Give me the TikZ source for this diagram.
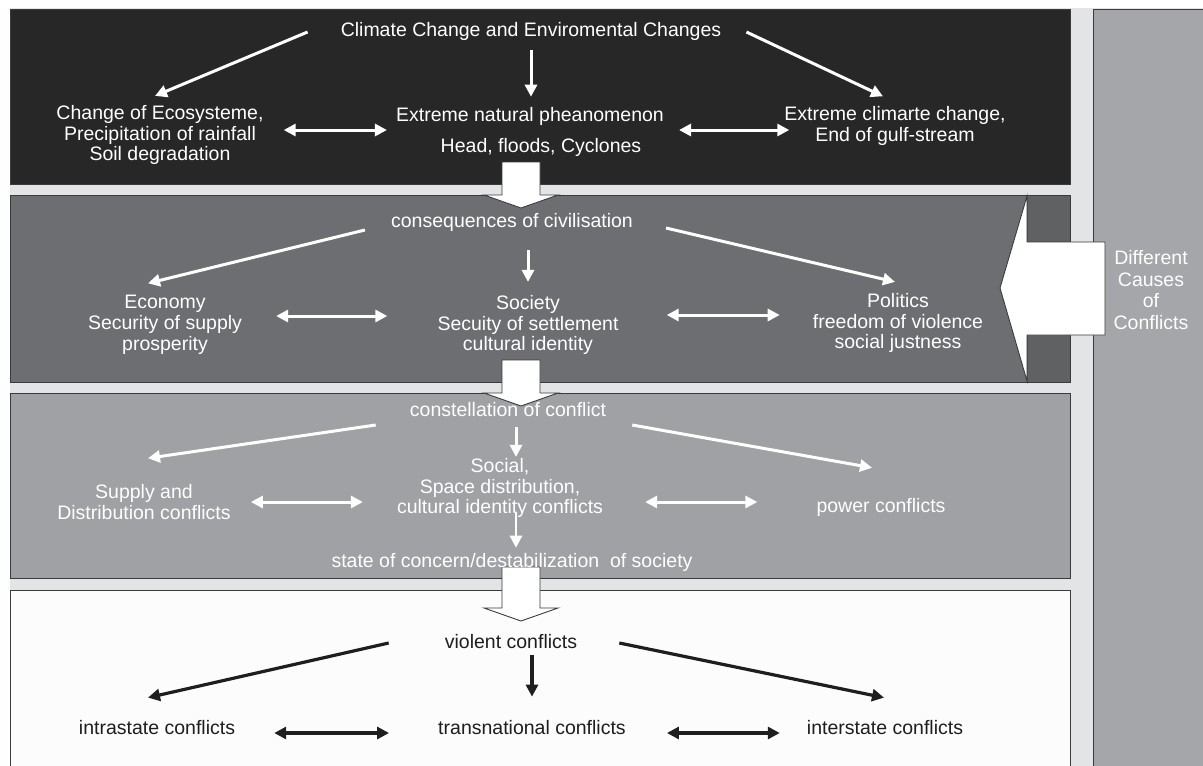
\documentclass[tikz,border=0pt]{standalone}
\usepackage{fontspec}
\setmainfont{Liberation Sans}
\usetikzlibrary{arrows.meta, positioning, calc}
\definecolor{ccNight}{HTML}{272727}
\definecolor{ccDark}{HTML}{6C6E71}
\definecolor{ccMid}{HTML}{9FA1A4}
\definecolor{ccPale}{HTML}{FCFCFC}
\definecolor{ccSide}{HTML}{A4A6A9}
\definecolor{ccGap}{HTML}{E3E4E5}
\definecolor{ccEdge}{HTML}{3A3B3D}
\definecolor{ccInk}{HTML}{1E1E1E}

\begin{document}
\begin{tikzpicture}[
  x=1pt, y=-1pt,
  font=\fontsize{19.5}{20.8}\selectfont,
  lbl/.style={align=center, text=white, inner sep=1pt},
  dlbl/.style={lbl, text=ccInk},
  band/.style={draw=ccEdge, line width=1pt},
  wtip/.tip={Triangle[length=12pt, width=12pt]},
  warr/.style={draw=white, line width=3pt, -wtip},
  wdbl/.style={draw=white, line width=3pt, wtip-wtip},
  karr/.style={draw=ccInk, line width=3.2pt, -wtip},
  kdbl/.style={draw=ccInk, line width=3.2pt, wtip-wtip},
  fat/.style={fill=white, draw=ccEdge, line width=0.9pt},
]

% hollow block arrow pointing down: axis, top of the shaft, foot of the head
\newcommand{\fatdown}[3]{%
  \draw[fat] ({#1-19},#2) -- ({#1+19},#2) -- ({#1+19},#3) -- ({#1+37},#3)
    -- (#1,{#3+13}) -- ({#1-37},#3) -- ({#1-19},#3) -- cycle;}

\useasboundingbox (0,0) rectangle (1203,766);

% ============================ bands and side column ===========================
\fill[ccGap] (0,0) rectangle (1203,766);
\fill[white] (0,0) rectangle (1203,8);
\fill[white!96!ccGap] (0,8) rectangle (10,766);
\draw[band, fill=ccNight] (10,9) rectangle (1070,184);
\draw[band, fill=ccDark] (10,195) rectangle (1070,382);
\draw[band, fill=ccDark!88!black] (1027,195) rectangle (1070,382);
\draw[band, fill=ccMid] (10,393) rectangle (1070,578);
\draw[band, fill=ccPale] (10,590) rectangle (1070,772);
\draw[band, fill=ccSide] (1093,9) rectangle (1210,772);

% the big arrow coming in from the side column
\draw[fat] (1105,242) -- (1027,242) -- (1027,196) -- (1000,288)
  -- (1027,381) -- (1027,335) -- (1105,335) -- cycle;
\node[lbl, font=\fontsize{19.5}{21.7}\selectfont] (causes) at (1151,290)
  {Different\\Causes\\of\\Conflicts};

% one level hands down to the next
\fatdown{521}{162}{195}
\fatdown{521}{360}{393}
\fatdown{521}{567}{608}

% ============================ (1) climate ====================================
\node[lbl] (clim) at (531,31) {Climate Change and Enviromental Changes};
\node[lbl] (eco) at (160,135) {Change of Ecosysteme,\\Precipitation of rainfall\\Soil degradation};
\node[lbl] (nat) at (530,116) {Extreme natural pheanomenon};
\node[lbl] (heat) at (541,147) {Head, floods, Cyclones};
\node[lbl] (gulf) at (895,126) {Extreme climarte change,\\End of gulf-stream};

\draw[warr] ([xshift=-32pt,yshift=-1pt]clim.west) -- ([xshift=-5pt,yshift=8pt]eco.north);
\draw[warr, shorten <=9pt, shorten >=9pt] (clim.south) -- (clim.south |- nat.north);
\draw[warr] ([xshift=24pt,yshift=-1pt]clim.east) -- ([xshift=-12pt,yshift=9pt]gulf.north);
\draw[wdbl] ([xshift=19pt,yshift=5pt]eco.east) -- ([xshift=-8pt,yshift=-14pt]nat.west);
\draw[wdbl] ([xshift=14pt,yshift=-14pt]nat.east) -- ([xshift=6pt,yshift=-4pt]gulf.west);

% ============================ (2) civilisation ===============================
\node[lbl] (cons) at (512,222) {consequences of civilisation};
\node[lbl] (econ) at (165,325) {Economy\\Security of supply\\prosperity};
\node[lbl] (soc) at (528,325) {Society\\Secuity of settlement\\cultural identity};
\node[lbl] (pol) at (898,323) {Politics\\freedom of violence\\social justness};

\draw[warr] ([xshift=-25pt,yshift=-8pt]cons.west) -- ([xshift=-17pt,yshift=11pt]econ.north);
\draw[warr, shorten <=18pt, shorten >=12pt] (soc.north |- cons.south) -- (soc.north);
\draw[warr] ([xshift=32pt,yshift=-6pt]cons.east) -- ([xshift=-3pt,yshift=10pt]pol.north);
\draw[wdbl] ([xshift=33pt,yshift=9pt]econ.east) -- ([xshift=-49pt,yshift=9pt]soc.west);
\draw[wdbl] ([xshift=47pt,yshift=10pt]soc.east) -- ([xshift=-32pt,yshift=8pt]pol.west);

% ============================ (3) conflict ===================================
\node[lbl] (con) at (508,410) {constellation of conflict};
\node[lbl] (supp) at (144,502) {Supply and\\Distribution conflicts};
\node[lbl] (social) at (500,488) {Social,\\Space distribution,\\cultural identity conflicts};
\node[lbl] (pow) at (881,507) {power conflicts};
\node[lbl] (stat) at (512,562) {state of concern/destabilization\ \ of society};

\draw[warr] ([xshift=-33pt,yshift=-15pt]con.west) -- ([xshift=4pt,yshift=25pt]supp.north);
\draw[warr, shorten <=9pt] ([xshift=8pt]con.south) -- ([xshift=16pt]social.north);
\draw[warr] ([xshift=25pt,yshift=-15pt]con.east) -- ([xshift=-9pt,yshift=29pt]pow.north);
\draw[wdbl] ([xshift=19pt]supp.east) -- ([xshift=-33pt,yshift=-14pt]social.west);
\draw[wdbl] ([xshift=41pt,yshift=-14pt]social.east) -- ([xshift=-58pt,yshift=5pt]pow.west);
\draw[warr, line width=2.5pt] ([xshift=16pt,yshift=6pt]social.south) -- ([xshift=4pt,yshift=4pt]stat.north);

% ============================ (4) violence ===================================
\node[dlbl] (viol) at (511,642) {violent conflicts};
\node[dlbl] (intra) at (157,728) {intrastate conflicts};
\node[dlbl] (trans) at (532,728) {transnational conflicts};
\node[dlbl] (inter) at (885,728) {interstate conflicts};

\draw[karr] ([xshift=-55pt,yshift=-1pt]viol.west) -- ([xshift=-9pt,yshift=22pt]intra.north);
\draw[karr, shorten <=5pt, shorten >=23pt] (trans.north |- viol.south) -- (trans.north);
\draw[karr] ([xshift=41pt,yshift=-1pt]viol.east) -- ([xshift=-1pt,yshift=22pt]inter.north);
\draw[kdbl] ([xshift=38pt,yshift=-5pt]intra.east) -- ([xshift=-48pt,yshift=-5pt]trans.west);
\draw[kdbl] ([xshift=40pt,yshift=-5pt]trans.east) -- ([xshift=-26pt,yshift=-5pt]inter.west);
\end{tikzpicture}
\end{document}
